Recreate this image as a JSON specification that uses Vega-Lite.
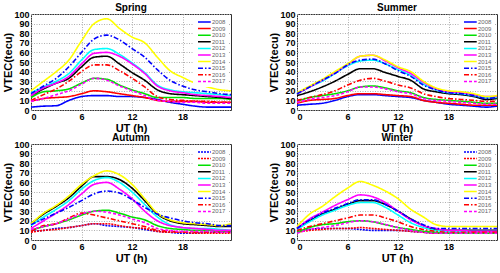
{
"$schema":"https://vega.github.io/schema/vega-lite/v6.json",
"padding":{"left":2,"top":2,"right":0,"bottom":0},
"datasets":{
"spring":[
{"ut":0,"year":"2008","tec":3},{"ut":1.5,"year":"2008","tec":4},{"ut":3,"year":"2008","tec":4.5},{"ut":4.5,"year":"2008","tec":10},{"ut":6,"year":"2008","tec":14},{"ut":7.5,"year":"2008","tec":15},{"ut":9,"year":"2008","tec":15},{"ut":10.5,"year":"2008","tec":14},{"ut":12,"year":"2008","tec":14},{"ut":13.5,"year":"2008","tec":13},{"ut":15,"year":"2008","tec":11},{"ut":16.5,"year":"2008","tec":8},{"ut":18,"year":"2008","tec":6},{"ut":19.5,"year":"2008","tec":4},{"ut":21,"year":"2008","tec":3},{"ut":22.5,"year":"2008","tec":3},{"ut":23.75,"year":"2008","tec":3},
{"ut":0,"year":"2009","tec":9},{"ut":1.5,"year":"2009","tec":12},{"ut":3,"year":"2009","tec":13},{"ut":4.5,"year":"2009","tec":14},{"ut":6,"year":"2009","tec":17},{"ut":7.5,"year":"2009","tec":20},{"ut":9,"year":"2009","tec":19},{"ut":10.5,"year":"2009","tec":17},{"ut":12,"year":"2009","tec":15},{"ut":13.5,"year":"2009","tec":13},{"ut":15,"year":"2009","tec":10},{"ut":16.5,"year":"2009","tec":9},{"ut":18,"year":"2009","tec":9},{"ut":19.5,"year":"2009","tec":9},{"ut":21,"year":"2009","tec":8},{"ut":22.5,"year":"2009","tec":8},{"ut":23.75,"year":"2009","tec":8},
{"ut":0,"year":"2010","tec":13},{"ut":1.5,"year":"2010","tec":19},{"ut":3,"year":"2010","tec":20},{"ut":4.5,"year":"2010","tec":22},{"ut":6,"year":"2010","tec":28},{"ut":7.5,"year":"2010","tec":33},{"ut":9,"year":"2010","tec":32},{"ut":10.5,"year":"2010","tec":26},{"ut":12,"year":"2010","tec":21},{"ut":13.5,"year":"2010","tec":17},{"ut":15,"year":"2010","tec":13},{"ut":16.5,"year":"2010","tec":13},{"ut":18,"year":"2010","tec":13},{"ut":19.5,"year":"2010","tec":12},{"ut":21,"year":"2010","tec":12},{"ut":22.5,"year":"2010","tec":12},{"ut":23.75,"year":"2010","tec":11},
{"ut":0,"year":"2011","tec":15},{"ut":1.5,"year":"2011","tec":22},{"ut":3,"year":"2011","tec":28},{"ut":4.5,"year":"2011","tec":33},{"ut":6,"year":"2011","tec":45},{"ut":7.5,"year":"2011","tec":55},{"ut":9,"year":"2011","tec":56},{"ut":10.5,"year":"2011","tec":48},{"ut":12,"year":"2011","tec":39},{"ut":13.5,"year":"2011","tec":31},{"ut":15,"year":"2011","tec":21},{"ut":16.5,"year":"2011","tec":17},{"ut":18,"year":"2011","tec":16},{"ut":19.5,"year":"2011","tec":15},{"ut":21,"year":"2011","tec":14},{"ut":22.5,"year":"2011","tec":13},{"ut":23.75,"year":"2011","tec":12},
{"ut":0,"year":"2012","tec":18},{"ut":1.5,"year":"2012","tec":24},{"ut":3,"year":"2012","tec":30},{"ut":4.5,"year":"2012","tec":38},{"ut":6,"year":"2012","tec":52},{"ut":7.5,"year":"2012","tec":63},{"ut":9,"year":"2012","tec":64},{"ut":10.5,"year":"2012","tec":58},{"ut":12,"year":"2012","tec":49},{"ut":13.5,"year":"2012","tec":39},{"ut":15,"year":"2012","tec":26},{"ut":16.5,"year":"2012","tec":21},{"ut":18,"year":"2012","tec":19},{"ut":19.5,"year":"2012","tec":18},{"ut":21,"year":"2012","tec":17},{"ut":22.5,"year":"2012","tec":16},{"ut":23.75,"year":"2012","tec":15},
{"ut":0,"year":"2013","tec":15},{"ut":1.5,"year":"2013","tec":23},{"ut":3,"year":"2013","tec":28},{"ut":4.5,"year":"2013","tec":35},{"ut":6,"year":"2013","tec":48},{"ut":7.5,"year":"2013","tec":59},{"ut":9,"year":"2013","tec":60},{"ut":10.5,"year":"2013","tec":56},{"ut":12,"year":"2013","tec":48},{"ut":13.5,"year":"2013","tec":38},{"ut":15,"year":"2013","tec":25},{"ut":16.5,"year":"2013","tec":20},{"ut":18,"year":"2013","tec":18},{"ut":19.5,"year":"2013","tec":16},{"ut":21,"year":"2013","tec":15},{"ut":22.5,"year":"2013","tec":14},{"ut":23.75,"year":"2013","tec":13},
{"ut":0,"year":"2014","tec":20},{"ut":1.5,"year":"2014","tec":30},{"ut":3,"year":"2014","tec":40},{"ut":4.5,"year":"2014","tec":52},{"ut":6,"year":"2014","tec":72},{"ut":7.5,"year":"2014","tec":90},{"ut":9,"year":"2014","tec":95},{"ut":10.5,"year":"2014","tec":85},{"ut":12,"year":"2014","tec":76},{"ut":13.5,"year":"2014","tec":70},{"ut":15,"year":"2014","tec":55},{"ut":16.5,"year":"2014","tec":41},{"ut":18,"year":"2014","tec":34},{"ut":19.5,"year":"2014","tec":28},{"ut":21,"year":"2014","tec":24},{"ut":22.5,"year":"2014","tec":21},{"ut":23.75,"year":"2014","tec":20},
{"ut":0,"year":"2015","tec":17},{"ut":1.5,"year":"2015","tec":25},{"ut":3,"year":"2015","tec":33},{"ut":4.5,"year":"2015","tec":45},{"ut":6,"year":"2015","tec":60},{"ut":7.5,"year":"2015","tec":74},{"ut":9,"year":"2015","tec":78},{"ut":10.5,"year":"2015","tec":73},{"ut":12,"year":"2015","tec":64},{"ut":13.5,"year":"2015","tec":55},{"ut":15,"year":"2015","tec":42},{"ut":16.5,"year":"2015","tec":31},{"ut":18,"year":"2015","tec":25},{"ut":19.5,"year":"2015","tec":21},{"ut":21,"year":"2015","tec":19},{"ut":22.5,"year":"2015","tec":17},{"ut":23.75,"year":"2015","tec":16},
{"ut":0,"year":"2016","tec":10},{"ut":1.5,"year":"2016","tec":16},{"ut":3,"year":"2016","tec":22},{"ut":4.5,"year":"2016","tec":30},{"ut":6,"year":"2016","tec":40},{"ut":7.5,"year":"2016","tec":47},{"ut":9,"year":"2016","tec":47},{"ut":10.5,"year":"2016","tec":41},{"ut":12,"year":"2016","tec":33},{"ut":13.5,"year":"2016","tec":24},{"ut":15,"year":"2016","tec":14},{"ut":16.5,"year":"2016","tec":11},{"ut":18,"year":"2016","tec":10},{"ut":19.5,"year":"2016","tec":9},{"ut":21,"year":"2016","tec":9},{"ut":22.5,"year":"2016","tec":8},{"ut":23.75,"year":"2016","tec":8},
{"ut":0,"year":"2017","tec":9},{"ut":1.5,"year":"2017","tec":12},{"ut":3,"year":"2017","tec":16},{"ut":4.5,"year":"2017","tec":20},{"ut":6,"year":"2017","tec":27},{"ut":7.5,"year":"2017","tec":33},{"ut":9,"year":"2017","tec":31},{"ut":10.5,"year":"2017","tec":25},{"ut":12,"year":"2017","tec":20},{"ut":13.5,"year":"2017","tec":15},{"ut":15,"year":"2017","tec":10},{"ut":16.5,"year":"2017","tec":9},{"ut":18,"year":"2017","tec":8},{"ut":19.5,"year":"2017","tec":8},{"ut":21,"year":"2017","tec":7},{"ut":22.5,"year":"2017","tec":7},{"ut":23.75,"year":"2017","tec":7}
],
"summer":[
{"ut":0,"year":"2008","tec":5},{"ut":1.5,"year":"2008","tec":6},{"ut":3,"year":"2008","tec":7},{"ut":4.5,"year":"2008","tec":10},{"ut":6,"year":"2008","tec":14},{"ut":7.5,"year":"2008","tec":16},{"ut":9,"year":"2008","tec":16},{"ut":10.5,"year":"2008","tec":15},{"ut":12,"year":"2008","tec":14},{"ut":13.5,"year":"2008","tec":13},{"ut":15,"year":"2008","tec":10},{"ut":16.5,"year":"2008","tec":8},{"ut":18,"year":"2008","tec":6},{"ut":19.5,"year":"2008","tec":5},{"ut":21,"year":"2008","tec":4},{"ut":22.5,"year":"2008","tec":3},{"ut":23.75,"year":"2008","tec":4},
{"ut":0,"year":"2009","tec":7},{"ut":1.5,"year":"2009","tec":10},{"ut":3,"year":"2009","tec":11},{"ut":4.5,"year":"2009","tec":12},{"ut":6,"year":"2009","tec":15},{"ut":7.5,"year":"2009","tec":17},{"ut":9,"year":"2009","tec":17},{"ut":10.5,"year":"2009","tec":16},{"ut":12,"year":"2009","tec":15},{"ut":13.5,"year":"2009","tec":14},{"ut":15,"year":"2009","tec":10},{"ut":16.5,"year":"2009","tec":8},{"ut":18,"year":"2009","tec":7},{"ut":19.5,"year":"2009","tec":6},{"ut":21,"year":"2009","tec":5},{"ut":22.5,"year":"2009","tec":5},{"ut":23.75,"year":"2009","tec":5},
{"ut":0,"year":"2010","tec":9},{"ut":1.5,"year":"2010","tec":13},{"ut":3,"year":"2010","tec":15},{"ut":4.5,"year":"2010","tec":17},{"ut":6,"year":"2010","tec":20},{"ut":7.5,"year":"2010","tec":24},{"ut":9,"year":"2010","tec":25},{"ut":10.5,"year":"2010","tec":23},{"ut":12,"year":"2010","tec":20},{"ut":13.5,"year":"2010","tec":18},{"ut":15,"year":"2010","tec":13},{"ut":16.5,"year":"2010","tec":11},{"ut":18,"year":"2010","tec":10},{"ut":19.5,"year":"2010","tec":9},{"ut":21,"year":"2010","tec":8},{"ut":22.5,"year":"2010","tec":7},{"ut":23.75,"year":"2010","tec":7},
{"ut":0,"year":"2011","tec":15},{"ut":1.5,"year":"2011","tec":19},{"ut":3,"year":"2011","tec":24},{"ut":4.5,"year":"2011","tec":30},{"ut":6,"year":"2011","tec":37},{"ut":7.5,"year":"2011","tec":43},{"ut":9,"year":"2011","tec":43},{"ut":10.5,"year":"2011","tec":39},{"ut":12,"year":"2011","tec":35},{"ut":13.5,"year":"2011","tec":31},{"ut":15,"year":"2011","tec":22},{"ut":16.5,"year":"2011","tec":19},{"ut":18,"year":"2011","tec":17},{"ut":19.5,"year":"2011","tec":16},{"ut":21,"year":"2011","tec":14},{"ut":22.5,"year":"2011","tec":11},{"ut":23.75,"year":"2011","tec":12},
{"ut":0,"year":"2012","tec":17},{"ut":1.5,"year":"2012","tec":24},{"ut":3,"year":"2012","tec":30},{"ut":4.5,"year":"2012","tec":38},{"ut":6,"year":"2012","tec":46},{"ut":7.5,"year":"2012","tec":51},{"ut":9,"year":"2012","tec":52},{"ut":10.5,"year":"2012","tec":48},{"ut":12,"year":"2012","tec":42},{"ut":13.5,"year":"2012","tec":36},{"ut":15,"year":"2012","tec":27},{"ut":16.5,"year":"2012","tec":21},{"ut":18,"year":"2012","tec":18},{"ut":19.5,"year":"2012","tec":17},{"ut":21,"year":"2012","tec":15},{"ut":22.5,"year":"2012","tec":13},{"ut":23.75,"year":"2012","tec":13},
{"ut":0,"year":"2013","tec":17},{"ut":1.5,"year":"2013","tec":24},{"ut":3,"year":"2013","tec":31},{"ut":4.5,"year":"2013","tec":39},{"ut":6,"year":"2013","tec":47},{"ut":7.5,"year":"2013","tec":56},{"ut":9,"year":"2013","tec":57},{"ut":10.5,"year":"2013","tec":51},{"ut":12,"year":"2013","tec":44},{"ut":13.5,"year":"2013","tec":38},{"ut":15,"year":"2013","tec":29},{"ut":16.5,"year":"2013","tec":22},{"ut":18,"year":"2013","tec":19},{"ut":19.5,"year":"2013","tec":18},{"ut":21,"year":"2013","tec":16},{"ut":22.5,"year":"2013","tec":14},{"ut":23.75,"year":"2013","tec":14},
{"ut":0,"year":"2014","tec":18},{"ut":1.5,"year":"2014","tec":25},{"ut":3,"year":"2014","tec":32},{"ut":4.5,"year":"2014","tec":40},{"ut":6,"year":"2014","tec":48},{"ut":7.5,"year":"2014","tec":56},{"ut":9,"year":"2014","tec":57},{"ut":10.5,"year":"2014","tec":52},{"ut":12,"year":"2014","tec":45},{"ut":13.5,"year":"2014","tec":40},{"ut":15,"year":"2014","tec":30},{"ut":16.5,"year":"2014","tec":23},{"ut":18,"year":"2014","tec":20},{"ut":19.5,"year":"2014","tec":19},{"ut":21,"year":"2014","tec":17},{"ut":22.5,"year":"2014","tec":14},{"ut":23.75,"year":"2014","tec":15},
{"ut":0,"year":"2015","tec":17},{"ut":1.5,"year":"2015","tec":24},{"ut":3,"year":"2015","tec":31},{"ut":4.5,"year":"2015","tec":38},{"ut":6,"year":"2015","tec":47},{"ut":7.5,"year":"2015","tec":52},{"ut":9,"year":"2015","tec":53},{"ut":10.5,"year":"2015","tec":48},{"ut":12,"year":"2015","tec":41},{"ut":13.5,"year":"2015","tec":35},{"ut":15,"year":"2015","tec":26},{"ut":16.5,"year":"2015","tec":21},{"ut":18,"year":"2015","tec":18},{"ut":19.5,"year":"2015","tec":17},{"ut":21,"year":"2015","tec":15},{"ut":22.5,"year":"2015","tec":12},{"ut":23.75,"year":"2015","tec":13},
{"ut":0,"year":"2016","tec":10},{"ut":1.5,"year":"2016","tec":13},{"ut":3,"year":"2016","tec":16},{"ut":4.5,"year":"2016","tec":20},{"ut":6,"year":"2016","tec":26},{"ut":7.5,"year":"2016","tec":31},{"ut":9,"year":"2016","tec":33},{"ut":10.5,"year":"2016","tec":30},{"ut":12,"year":"2016","tec":26},{"ut":13.5,"year":"2016","tec":23},{"ut":15,"year":"2016","tec":17},{"ut":16.5,"year":"2016","tec":14},{"ut":18,"year":"2016","tec":12},{"ut":19.5,"year":"2016","tec":11},{"ut":21,"year":"2016","tec":10},{"ut":22.5,"year":"2016","tec":9},{"ut":23.75,"year":"2016","tec":9},
{"ut":0,"year":"2017","tec":8},{"ut":1.5,"year":"2017","tec":11},{"ut":3,"year":"2017","tec":13},{"ut":4.5,"year":"2017","tec":15},{"ut":6,"year":"2017","tec":19},{"ut":7.5,"year":"2017","tec":24},{"ut":9,"year":"2017","tec":24},{"ut":10.5,"year":"2017","tec":22},{"ut":12,"year":"2017","tec":19},{"ut":13.5,"year":"2017","tec":17},{"ut":15,"year":"2017","tec":12},{"ut":16.5,"year":"2017","tec":10},{"ut":18,"year":"2017","tec":9},{"ut":19.5,"year":"2017","tec":8},{"ut":21,"year":"2017","tec":7},{"ut":22.5,"year":"2017","tec":6},{"ut":23.75,"year":"2017","tec":6}
],
"autumn":[
{"ut":0,"year":"2008","tec":9},{"ut":1.5,"year":"2008","tec":10},{"ut":3,"year":"2008","tec":12},{"ut":4.5,"year":"2008","tec":13},{"ut":6,"year":"2008","tec":15},{"ut":7.5,"year":"2008","tec":17},{"ut":9,"year":"2008","tec":15},{"ut":10.5,"year":"2008","tec":14},{"ut":12,"year":"2008","tec":13},{"ut":13.5,"year":"2008","tec":11},{"ut":15,"year":"2008","tec":9},{"ut":16.5,"year":"2008","tec":8},{"ut":18,"year":"2008","tec":7},{"ut":19.5,"year":"2008","tec":7},{"ut":21,"year":"2008","tec":8},{"ut":22.5,"year":"2008","tec":8},{"ut":23.75,"year":"2008","tec":8},
{"ut":0,"year":"2009","tec":8},{"ut":1.5,"year":"2009","tec":10},{"ut":3,"year":"2009","tec":11},{"ut":4.5,"year":"2009","tec":13},{"ut":6,"year":"2009","tec":15},{"ut":7.5,"year":"2009","tec":17},{"ut":9,"year":"2009","tec":17},{"ut":10.5,"year":"2009","tec":15},{"ut":12,"year":"2009","tec":13},{"ut":13.5,"year":"2009","tec":12},{"ut":15,"year":"2009","tec":9},{"ut":16.5,"year":"2009","tec":8},{"ut":18,"year":"2009","tec":8},{"ut":19.5,"year":"2009","tec":7},{"ut":21,"year":"2009","tec":7},{"ut":22.5,"year":"2009","tec":7},{"ut":23.75,"year":"2009","tec":7},
{"ut":0,"year":"2010","tec":10},{"ut":1.5,"year":"2010","tec":14},{"ut":3,"year":"2010","tec":17},{"ut":4.5,"year":"2010","tec":21},{"ut":6,"year":"2010","tec":26},{"ut":7.5,"year":"2010","tec":30},{"ut":9,"year":"2010","tec":31},{"ut":10.5,"year":"2010","tec":28},{"ut":12,"year":"2010","tec":24},{"ut":13.5,"year":"2010","tec":21},{"ut":15,"year":"2010","tec":15},{"ut":16.5,"year":"2010","tec":12},{"ut":18,"year":"2010","tec":11},{"ut":19.5,"year":"2010","tec":10},{"ut":21,"year":"2010","tec":10},{"ut":22.5,"year":"2010","tec":9},{"ut":23.75,"year":"2010","tec":9},
{"ut":0,"year":"2011","tec":17},{"ut":1.5,"year":"2011","tec":27},{"ut":3,"year":"2011","tec":35},{"ut":4.5,"year":"2011","tec":44},{"ut":6,"year":"2011","tec":56},{"ut":7.5,"year":"2011","tec":66},{"ut":9,"year":"2011","tec":66},{"ut":10.5,"year":"2011","tec":63},{"ut":12,"year":"2011","tec":54},{"ut":13.5,"year":"2011","tec":41},{"ut":15,"year":"2011","tec":27},{"ut":16.5,"year":"2011","tec":20},{"ut":18,"year":"2011","tec":17},{"ut":19.5,"year":"2011","tec":16},{"ut":21,"year":"2011","tec":15},{"ut":22.5,"year":"2011","tec":14},{"ut":23.75,"year":"2011","tec":14},
{"ut":0,"year":"2012","tec":15},{"ut":1.5,"year":"2012","tec":24},{"ut":3,"year":"2012","tec":32},{"ut":4.5,"year":"2012","tec":41},{"ut":6,"year":"2012","tec":53},{"ut":7.5,"year":"2012","tec":62},{"ut":9,"year":"2012","tec":65},{"ut":10.5,"year":"2012","tec":60},{"ut":12,"year":"2012","tec":50},{"ut":13.5,"year":"2012","tec":37},{"ut":15,"year":"2012","tec":24},{"ut":16.5,"year":"2012","tec":16},{"ut":18,"year":"2012","tec":13},{"ut":19.5,"year":"2012","tec":12},{"ut":21,"year":"2012","tec":12},{"ut":22.5,"year":"2012","tec":11},{"ut":23.75,"year":"2012","tec":10},
{"ut":0,"year":"2013","tec":12},{"ut":1.5,"year":"2013","tec":20},{"ut":3,"year":"2013","tec":28},{"ut":4.5,"year":"2013","tec":37},{"ut":6,"year":"2013","tec":48},{"ut":7.5,"year":"2013","tec":58},{"ut":9,"year":"2013","tec":60},{"ut":10.5,"year":"2013","tec":53},{"ut":12,"year":"2013","tec":43},{"ut":13.5,"year":"2013","tec":30},{"ut":15,"year":"2013","tec":20},{"ut":16.5,"year":"2013","tec":15},{"ut":18,"year":"2013","tec":13},{"ut":19.5,"year":"2013","tec":12},{"ut":21,"year":"2013","tec":11},{"ut":22.5,"year":"2013","tec":10},{"ut":23.75,"year":"2013","tec":10},
{"ut":0,"year":"2014","tec":17},{"ut":1.5,"year":"2014","tec":28},{"ut":3,"year":"2014","tec":36},{"ut":4.5,"year":"2014","tec":46},{"ut":6,"year":"2014","tec":58},{"ut":7.5,"year":"2014","tec":67},{"ut":9,"year":"2014","tec":72},{"ut":10.5,"year":"2014","tec":68},{"ut":12,"year":"2014","tec":58},{"ut":13.5,"year":"2014","tec":43},{"ut":15,"year":"2014","tec":28},{"ut":16.5,"year":"2014","tec":21},{"ut":18,"year":"2014","tec":18},{"ut":19.5,"year":"2014","tec":17},{"ut":21,"year":"2014","tec":16},{"ut":22.5,"year":"2014","tec":15},{"ut":23.75,"year":"2014","tec":17},
{"ut":0,"year":"2015","tec":16},{"ut":1.5,"year":"2015","tec":22},{"ut":3,"year":"2015","tec":28},{"ut":4.5,"year":"2015","tec":34},{"ut":6,"year":"2015","tec":41},{"ut":7.5,"year":"2015","tec":48},{"ut":9,"year":"2015","tec":51},{"ut":10.5,"year":"2015","tec":49},{"ut":12,"year":"2015","tec":42},{"ut":13.5,"year":"2015","tec":34},{"ut":15,"year":"2015","tec":27},{"ut":16.5,"year":"2015","tec":23},{"ut":18,"year":"2015","tec":20},{"ut":19.5,"year":"2015","tec":18},{"ut":21,"year":"2015","tec":17},{"ut":22.5,"year":"2015","tec":15},{"ut":23.75,"year":"2015","tec":15},
{"ut":0,"year":"2016","tec":9},{"ut":1.5,"year":"2016","tec":15},{"ut":3,"year":"2016","tec":17},{"ut":4.5,"year":"2016","tec":23},{"ut":6,"year":"2016","tec":28},{"ut":7.5,"year":"2016","tec":26},{"ut":9,"year":"2016","tec":23},{"ut":10.5,"year":"2016","tec":20},{"ut":12,"year":"2016","tec":17},{"ut":13.5,"year":"2016","tec":14},{"ut":15,"year":"2016","tec":10},{"ut":16.5,"year":"2016","tec":9},{"ut":18,"year":"2016","tec":8},{"ut":19.5,"year":"2016","tec":8},{"ut":21,"year":"2016","tec":8},{"ut":22.5,"year":"2016","tec":8},{"ut":23.75,"year":"2016","tec":8},
{"ut":0,"year":"2017","tec":11},{"ut":1.5,"year":"2017","tec":14},{"ut":3,"year":"2017","tec":17},{"ut":4.5,"year":"2017","tec":22},{"ut":6,"year":"2017","tec":27},{"ut":7.5,"year":"2017","tec":30},{"ut":9,"year":"2017","tec":29},{"ut":10.5,"year":"2017","tec":26},{"ut":12,"year":"2017","tec":22},{"ut":13.5,"year":"2017","tec":18},{"ut":15,"year":"2017","tec":12},{"ut":16.5,"year":"2017","tec":10},{"ut":18,"year":"2017","tec":9},{"ut":19.5,"year":"2017","tec":9},{"ut":21,"year":"2017","tec":9},{"ut":22.5,"year":"2017","tec":8},{"ut":23.75,"year":"2017","tec":8}
],
"winter":[
{"ut":0,"year":"2008","tec":9},{"ut":1.5,"year":"2008","tec":11},{"ut":3,"year":"2008","tec":12},{"ut":4.5,"year":"2008","tec":12},{"ut":6,"year":"2008","tec":12},{"ut":7.5,"year":"2008","tec":11},{"ut":9,"year":"2008","tec":10},{"ut":10.5,"year":"2008","tec":10},{"ut":12,"year":"2008","tec":10},{"ut":13.5,"year":"2008","tec":9},{"ut":15,"year":"2008","tec":8},{"ut":16.5,"year":"2008","tec":7},{"ut":18,"year":"2008","tec":7},{"ut":19.5,"year":"2008","tec":7},{"ut":21,"year":"2008","tec":7},{"ut":22.5,"year":"2008","tec":7},{"ut":23.75,"year":"2008","tec":7},
{"ut":0,"year":"2009","tec":8},{"ut":1.5,"year":"2009","tec":10},{"ut":3,"year":"2009","tec":11},{"ut":4.5,"year":"2009","tec":12},{"ut":6,"year":"2009","tec":12},{"ut":7.5,"year":"2009","tec":13},{"ut":9,"year":"2009","tec":12},{"ut":10.5,"year":"2009","tec":11},{"ut":12,"year":"2009","tec":10},{"ut":13.5,"year":"2009","tec":9},{"ut":15,"year":"2009","tec":8},{"ut":16.5,"year":"2009","tec":7},{"ut":18,"year":"2009","tec":7},{"ut":19.5,"year":"2009","tec":7},{"ut":21,"year":"2009","tec":7},{"ut":22.5,"year":"2009","tec":7},{"ut":23.75,"year":"2009","tec":7},
{"ut":0,"year":"2010","tec":8},{"ut":1.5,"year":"2010","tec":13},{"ut":3,"year":"2010","tec":16},{"ut":4.5,"year":"2010","tec":17},{"ut":6,"year":"2010","tec":19},{"ut":7.5,"year":"2010","tec":20},{"ut":9,"year":"2010","tec":19},{"ut":10.5,"year":"2010","tec":16},{"ut":12,"year":"2010","tec":13},{"ut":13.5,"year":"2010","tec":11},{"ut":15,"year":"2010","tec":9},{"ut":16.5,"year":"2010","tec":8},{"ut":18,"year":"2010","tec":7},{"ut":19.5,"year":"2010","tec":7},{"ut":21,"year":"2010","tec":7},{"ut":22.5,"year":"2010","tec":7},{"ut":23.75,"year":"2010","tec":7},
{"ut":0,"year":"2011","tec":12},{"ut":1.5,"year":"2011","tec":20},{"ut":3,"year":"2011","tec":27},{"ut":4.5,"year":"2011","tec":32},{"ut":6,"year":"2011","tec":37},{"ut":7.5,"year":"2011","tec":41},{"ut":9,"year":"2011","tec":41},{"ut":10.5,"year":"2011","tec":37},{"ut":12,"year":"2011","tec":30},{"ut":13.5,"year":"2011","tec":22},{"ut":15,"year":"2011","tec":15},{"ut":16.5,"year":"2011","tec":11},{"ut":18,"year":"2011","tec":10},{"ut":19.5,"year":"2011","tec":10},{"ut":21,"year":"2011","tec":10},{"ut":22.5,"year":"2011","tec":10},{"ut":23.75,"year":"2011","tec":10},
{"ut":0,"year":"2012","tec":11},{"ut":1.5,"year":"2012","tec":19},{"ut":3,"year":"2012","tec":26},{"ut":4.5,"year":"2012","tec":31},{"ut":6,"year":"2012","tec":36},{"ut":7.5,"year":"2012","tec":39},{"ut":9,"year":"2012","tec":39},{"ut":10.5,"year":"2012","tec":34},{"ut":12,"year":"2012","tec":26},{"ut":13.5,"year":"2012","tec":18},{"ut":15,"year":"2012","tec":13},{"ut":16.5,"year":"2012","tec":10},{"ut":18,"year":"2012","tec":9},{"ut":19.5,"year":"2012","tec":9},{"ut":21,"year":"2012","tec":9},{"ut":22.5,"year":"2012","tec":9},{"ut":23.75,"year":"2012","tec":9},
{"ut":0,"year":"2013","tec":12},{"ut":1.5,"year":"2013","tec":22},{"ut":3,"year":"2013","tec":29},{"ut":4.5,"year":"2013","tec":36},{"ut":6,"year":"2013","tec":42},{"ut":7.5,"year":"2013","tec":47},{"ut":9,"year":"2013","tec":45},{"ut":10.5,"year":"2013","tec":39},{"ut":12,"year":"2013","tec":30},{"ut":13.5,"year":"2013","tec":21},{"ut":15,"year":"2013","tec":15},{"ut":16.5,"year":"2013","tec":12},{"ut":18,"year":"2013","tec":10},{"ut":19.5,"year":"2013","tec":10},{"ut":21,"year":"2013","tec":9},{"ut":22.5,"year":"2013","tec":9},{"ut":23.75,"year":"2013","tec":9},
{"ut":0,"year":"2014","tec":14},{"ut":1.5,"year":"2014","tec":27},{"ut":3,"year":"2014","tec":35},{"ut":4.5,"year":"2014","tec":45},{"ut":6,"year":"2014","tec":54},{"ut":7.5,"year":"2014","tec":61},{"ut":9,"year":"2014","tec":57},{"ut":10.5,"year":"2014","tec":51},{"ut":12,"year":"2014","tec":43},{"ut":13.5,"year":"2014","tec":32},{"ut":15,"year":"2014","tec":24},{"ut":16.5,"year":"2014","tec":16},{"ut":18,"year":"2014","tec":14},{"ut":19.5,"year":"2014","tec":14},{"ut":21,"year":"2014","tec":14},{"ut":22.5,"year":"2014","tec":14},{"ut":23.75,"year":"2014","tec":14},
{"ut":0,"year":"2015","tec":12},{"ut":1.5,"year":"2015","tec":21},{"ut":3,"year":"2015","tec":28},{"ut":4.5,"year":"2015","tec":33},{"ut":6,"year":"2015","tec":38},{"ut":7.5,"year":"2015","tec":42},{"ut":9,"year":"2015","tec":42},{"ut":10.5,"year":"2015","tec":37},{"ut":12,"year":"2015","tec":30},{"ut":13.5,"year":"2015","tec":22},{"ut":15,"year":"2015","tec":16},{"ut":16.5,"year":"2015","tec":12},{"ut":18,"year":"2015","tec":12},{"ut":19.5,"year":"2015","tec":12},{"ut":21,"year":"2015","tec":12},{"ut":22.5,"year":"2015","tec":12},{"ut":23.75,"year":"2015","tec":12},
{"ut":0,"year":"2016","tec":10},{"ut":1.5,"year":"2016","tec":14},{"ut":3,"year":"2016","tec":17},{"ut":4.5,"year":"2016","tec":20},{"ut":6,"year":"2016","tec":23},{"ut":7.5,"year":"2016","tec":26},{"ut":9,"year":"2016","tec":26},{"ut":10.5,"year":"2016","tec":23},{"ut":12,"year":"2016","tec":19},{"ut":13.5,"year":"2016","tec":14},{"ut":15,"year":"2016","tec":11},{"ut":16.5,"year":"2016","tec":9},{"ut":18,"year":"2016","tec":8},{"ut":19.5,"year":"2016","tec":8},{"ut":21,"year":"2016","tec":8},{"ut":22.5,"year":"2016","tec":8},{"ut":23.75,"year":"2016","tec":8},
{"ut":0,"year":"2017","tec":7},{"ut":1.5,"year":"2017","tec":11},{"ut":3,"year":"2017","tec":13},{"ut":4.5,"year":"2017","tec":15},{"ut":6,"year":"2017","tec":18},{"ut":7.5,"year":"2017","tec":20},{"ut":9,"year":"2017","tec":19},{"ut":10.5,"year":"2017","tec":16},{"ut":12,"year":"2017","tec":13},{"ut":13.5,"year":"2017","tec":10},{"ut":15,"year":"2017","tec":8},{"ut":16.5,"year":"2017","tec":7},{"ut":18,"year":"2017","tec":7},{"ut":19.5,"year":"2017","tec":7},{"ut":21,"year":"2017","tec":7},{"ut":22.5,"year":"2017","tec":7},{"ut":23.75,"year":"2017","tec":7}
]
},
"columns":2,
"spacing":{"row":-2,"column":33},
"concat":[
{"title":"Spring","width":200,"height":96,"data":{"name":"spring"},
 "mark":{"type":"line","strokeWidth":1.6,"interpolate":"monotone"},
 "encoding":{
  "x":{"field":"ut","type":"quantitative","scale":{"domain":[0,23.75],"nice":false},"axis":{"values":[0,6,12,18],"title":"UT (h)"}},
  "y":{"field":"tec","type":"quantitative","scale":{"domain":[0,100],"nice":false},"axis":{"values":[0,10,20,30,40,50,60,70,80,90,100],"title":"VTEC(tecu)"}},
  "color":{"field":"year","type":"nominal","scale":{"domain":["2008","2009","2010","2011","2012","2013","2014","2015","2016","2017"],"range":["#0000ff","#ff0000","#00e000","#000000","#00ffff","#ff00ff","#ffff00","#0000ff","#ff0000","#ff00ff"]},"legend":{"title":null}},
  "strokeDash":{"field":"year","type":"nominal","scale":{"domain":["2008","2009","2010","2011","2012","2013","2014","2015","2016","2017"],"range":[[1,0],[1,0],[1,0],[1,0],[1,0],[1,0],[1,0],[5,2,1.5,2],[5,2,1.5,2],[3,2]]},"legend":{"title":null}}
 }},
{"title":"Summer","width":200,"height":96,"data":{"name":"summer"},
 "mark":{"type":"line","strokeWidth":1.6,"interpolate":"monotone"},
 "encoding":{
  "x":{"field":"ut","type":"quantitative","scale":{"domain":[0,23.75],"nice":false},"axis":{"values":[0,6,12,18],"title":"UT (h)"}},
  "y":{"field":"tec","type":"quantitative","scale":{"domain":[0,100],"nice":false},"axis":{"values":[0,10,20,30,40,50,60,70,80,90,100],"title":"VTEC(tecu)"}},
  "color":{"field":"year","type":"nominal","scale":{"domain":["2008","2009","2010","2011","2012","2013","2014","2015","2016","2017"],"range":["#0000ff","#ff0000","#00e000","#000000","#00ffff","#ff00ff","#ffff00","#0000ff","#ff0000","#ff00ff"]},"legend":{"title":null}},
  "strokeDash":{"field":"year","type":"nominal","scale":{"domain":["2008","2009","2010","2011","2012","2013","2014","2015","2016","2017"],"range":[[1,0],[1,0],[1,0],[1,0],[1,0],[1,0],[1,0],[5,2,1.5,2],[5,2,1.5,2],[3,2]]},"legend":{"title":null}}
 }},
{"title":"Autumn","width":200,"height":96,"data":{"name":"autumn"},
 "mark":{"type":"line","strokeWidth":1.6,"interpolate":"monotone"},
 "encoding":{
  "x":{"field":"ut","type":"quantitative","scale":{"domain":[0,23.75],"nice":false},"axis":{"values":[0,6,12,18],"title":"UT (h)"}},
  "y":{"field":"tec","type":"quantitative","scale":{"domain":[0,100],"nice":false},"axis":{"values":[0,10,20,30,40,50,60,70,80,90,100],"title":"VTEC(tecu)"}},
  "color":{"field":"year","type":"nominal","scale":{"domain":["2008","2009","2010","2011","2012","2013","2014","2015","2016","2017"],"range":["#0000ff","#ff0000","#00e000","#000000","#00ffff","#ff00ff","#ffff00","#0000ff","#ff0000","#ff00ff"]},"legend":{"title":null}},
  "strokeDash":{"field":"year","type":"nominal","scale":{"domain":["2008","2009","2010","2011","2012","2013","2014","2015","2016","2017"],"range":[[2,1],[2,1],[1,0],[1,0],[1,0],[1,0],[1,0],[5,2,1.5,2],[5,2,1.5,2],[3,2]]},"legend":{"title":null}}
 }},
{"title":"Winter","width":200,"height":96,"data":{"name":"winter"},
 "mark":{"type":"line","strokeWidth":1.6,"interpolate":"monotone"},
 "encoding":{
  "x":{"field":"ut","type":"quantitative","scale":{"domain":[0,23.75],"nice":false},"axis":{"values":[0,6,12,18],"title":"UT (h)"}},
  "y":{"field":"tec","type":"quantitative","scale":{"domain":[0,100],"nice":false},"axis":{"values":[0,10,20,30,40,50,60,70,80,90,100],"title":"VTEC(tecu)"}},
  "color":{"field":"year","type":"nominal","scale":{"domain":["2008","2009","2010","2011","2012","2013","2014","2015","2016","2017"],"range":["#0000ff","#ff0000","#00e000","#000000","#00ffff","#ff00ff","#ffff00","#0000ff","#ff0000","#ff00ff"]},"legend":{"title":null}},
  "strokeDash":{"field":"year","type":"nominal","scale":{"domain":["2008","2009","2010","2011","2012","2013","2014","2015","2016","2017"],"range":[[2,1],[2,1],[1,0],[1,0],[1,0],[1,0],[1,0],[5,2,1.5,2],[5,2,1.5,2],[3,2]]},"legend":{"title":null}}
 }}
],
"resolve":{"scale":{"color":"independent","strokeDash":"independent"},"legend":{"color":"independent","strokeDash":"independent"}},
"config":{
 "font":"Liberation Sans",
 "view":{"stroke":"#333","strokeWidth":1},
 "axis":{"labelFont":"Liberation Sans","labelFontWeight":"bold","labelFontSize":9,"labelColor":"#000","titleFont":"Liberation Sans","titleFontSize":11,"titleFontWeight":"bold","titleColor":"#000","grid":true,"gridDash":[1,1.5],"gridColor":"#b0b0b0","domain":false,"ticks":false,"labelPadding":2,"titlePadding":1},
 "axisY":{"titlePadding":0},
 "title":{"font":"Liberation Sans","fontSize":10,"fontWeight":"bold","offset":-3,"color":"#000"},
 "legend":{"orient":"top-right","offset":3,"fillColor":"#ffffff","padding":2,"labelFont":"Liberation Sans","labelFontSize":6,"labelColor":"#666","symbolType":"M0,0H6","symbolSize":18,"symbolStrokeWidth":1.5,"rowPadding":0.6,"labelOffset":11}
}
}
